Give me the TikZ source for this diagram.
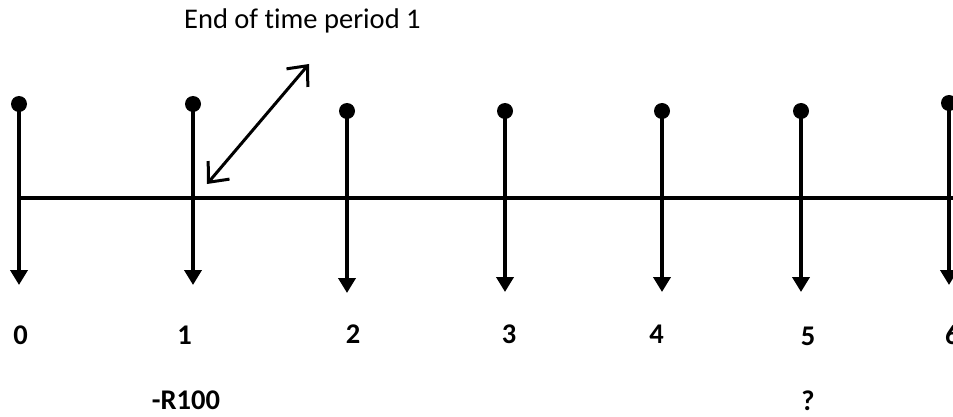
\documentclass[tikz,border=0pt]{standalone}
\usepackage{fontspec}
\setmainfont[Ligatures=NoCommon]{Carlito}
\usetikzlibrary{arrows.meta}
\begin{document}
\begin{tikzpicture}[x=1pt,y=-1pt,
  stem/.style={line width=4pt,-{Triangle[length=15pt,width=17pt]}},
  axis/.style={line width=4pt},
  dotstyle/.style={fill=black},
  lbl/.style={font=\fontsize{28.5}{32}\selectfont\bfseries,inner sep=0pt,anchor=base},
  note/.style={font=\fontsize{28.5}{32}\selectfont,inner sep=0pt,anchor=base west},
  pointer/.style={line width=3pt,{Straight Barb[length=16pt,width=28pt]}-{Straight Barb[length=16pt,width=28pt]}}]
\useasboundingbox (0,0) rectangle (953,417);
\clip (0,0) rectangle (953,417);
% stems: top coordinates and bottom tips
\coordinate (t0) at (19,104);  \coordinate (b0) at (19,285);
\coordinate (t1) at (193,104); \coordinate (b1) at (193,285);
\coordinate (t2) at (347,111); \coordinate (b2) at (347,293);
\coordinate (t3) at (505,111); \coordinate (b3) at (505,292);
\coordinate (t4) at (662,111); \coordinate (b4) at (662,292);
\coordinate (t5) at (801,111); \coordinate (b5) at (801,292);
\coordinate (t6) at (949,103); \coordinate (b6) at (949,285);
\coordinate (h0) at (19,198);  \coordinate (h6) at (953,198);
\draw[axis] (h0) -- (h6);
\foreach \i in {0,...,6}{
  \draw[stem] (t\i) -- (b\i);
  \fill[dotstyle] (t\i) circle (8pt);
}
% labels
\node[lbl] (n0) at (20.7,344) {0};
\node[lbl] (n1) at (184.7,344) {1};
\node[lbl] (n2) at (353,343.5) {2};
\node[lbl] (n3) at (509,343.5) {3};
\node[lbl] (n4) at (656.7,343.5) {4};
\node[lbl] (n5) at (808,345) {5};
\node[lbl,anchor=base west] (n6) at (945,344) {6};
\node[lbl] (r100) at (186,409.5) {-R100};
\node[lbl] (q) at (808,410) {?};
\node[note] (title) at (184,28.3) {End of time period 1};
% pointer arrow
\coordinate (a1) at (207,184);
\coordinate (a2) at (309,64);
\draw[pointer] (a1) -- (a2);
\end{tikzpicture}
\end{document}
